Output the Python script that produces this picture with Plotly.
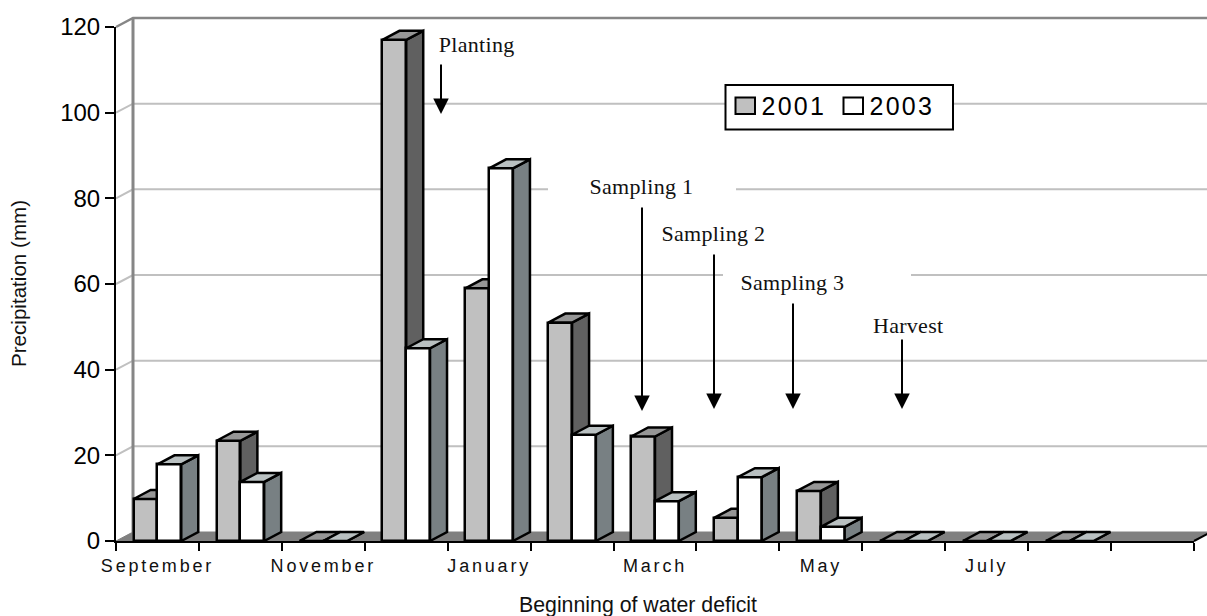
import plotly.graph_objects as go

months = ["September", "October", "November", "December", "January", "February", "March",
          "April", "May", "June", "July", "August", ""]
shown_months = ["September", "", "November", "", "January", "", "March", "", "May", "", "July", "", ""]
precip_2001 = [9.8, 23.4, 0, 117, 59, 51, 24.4, 5.4, 11.7, 0, 0, 0, None]
precip_2003 = [17.9, 13.8, 0, 45, 87, 24.8, 9.3, 14.9, 3.3, 0, 0, 0, None]
y_ticks = [0, 20, 40, 60, 80, 100, 120]

# pixel geometry of the plot frame
L, R, T, B = 116, 1194, 27, 541
W, H = 1207, 616
PX = (R - L) / 13
PY = (B - T) / 120
xd = lambda p: (p - L) / PX
yd = lambda p: (B - p) / PY
DX, DY = 17 / PX, 9 / PY      # 3-D depth offset
BW = 23.8 / PX                # bar width
EDGE = 2.5

SERIES = [
    ("2001", precip_2001, -BW / 2, "#C0C0C0", "#606060", "#969696", "x2", "y2"),
    ("2003", precip_2003, BW / 2, "#FFFFFF", "#788083", "#B9C0C1", "x3", "y3"),
]

fig = go.Figure()


def poly(xs, ys, fill, line, width, name, xa="x", ya="y"):
    fig.add_trace(go.Scatter(x=xs, y=ys, mode="lines", fill="toself" if fill else None, fillcolor=fill,
                             line=dict(color=line, width=width), xaxis=xa, yaxis=ya, name=name,
                             cliponaxis=False, showlegend=False, hoverinfo="skip"))


# floor and back wall, on a canvas-wide subplot so they can run past the frame
poly([0, DX, 13 + DX, 13, 0], [0, DY, DY, 0, 0], "#808080", "#808080", 1, "floor")
poly([13, 13 + DX], [0, DY], None, "#000000", 2, "floor edge")
for v in y_ticks[1:-1]:
    poly([0, DX, 13 + 2 * DX], [v, v + DY, v + DY], None, "#C0C0C0", 2, f"grid {v}")
poly([0, DX, 13 + 2 * DX], [120, 120 + DY, 120 + DY], None, "#868686", 2.5, "wall top")
poly([DX, DX], [DY, 120 + DY], None, "#868686", 3, "wall left")

# bars
for name, vals, off, front, side, top, xa, ya in SERIES:
    idx = [i for i, v in enumerate(vals) if v is not None]
    centers = [i + 0.5 + off for i in idx]
    fig.add_trace(go.Bar(x=centers, y=[vals[i] for i in idx], width=BW, name=name, xaxis=xa, yaxis=ya,
                         marker=dict(color=front, line=dict(color="#000000", width=EDGE)),
                         showlegend=False, customdata=[months[i] for i in idx],
                         hovertemplate="%{customdata}: %{y} mm<extra>" + name + "</extra>"))
    sx, sy, tx, ty = [], [], [], []
    for c, i in zip(centers, idx):
        v = vals[i]
        a, b = c - BW / 2, c + BW / 2
        sx += [b, b + DX, b + DX, b, b, None]
        sy += [0, DY, v + DY, v, 0, None]
        tx += [a, a + DX, b + DX, b, a, None]
        ty += [v, v + DY, v + DY, v, v, None]
    poly(sx, sy, side, "#000000", EDGE, name + " side", xa, ya)
    poly(tx, ty, top, "#000000", EDGE, name + " top", xa, ya)

shapes = []
# blank boxes that sit behind two of the labels
for x0, x1, py in [(548, 736, 189.5), (723, 911, 275.5)]:
    shapes.append(dict(type="rect", xref="x", yref="y", x0=xd(x0), x1=xd(x1), y0=yd(py + 3), y1=yd(py - 3),
                       fillcolor="#FFFFFF", line=dict(width=0), layer="above"))
# legend
shapes.append(dict(type="rect", xref="x", yref="y", x0=xd(725.5), x1=xd(953), y0=yd(129.5), y1=yd(85),
                   fillcolor="#FFFFFF", line=dict(color="#000000", width=2), layer="above"))
shapes.append(dict(type="rect", xref="x", yref="y", x0=xd(735.5), x1=xd(755), y0=yd(114), y1=yd(97.5),
                   fillcolor="#C0C0C0", line=dict(color="#000000", width=2), layer="above"))
shapes.append(dict(type="rect", xref="x", yref="y", x0=xd(843.5), x1=xd(863), y0=yd(114), y1=yd(97.5),
                   fillcolor="#FFFFFF", line=dict(color="#000000", width=2), layer="above"))

SERIF = dict(family="Liberation Serif", size=22, color="#111111")
annotations = []
for text, cx, cy in [("Planting", 476, 44), ("Sampling 1", 641, 186), ("Sampling 2", 713, 233),
                     ("Sampling 3", 792, 282), ("Harvest", 908, 325)]:
    annotations.append(dict(text=text, x=xd(cx), y=yd(cy), xref="x", yref="y", showarrow=False,
                            xanchor="center", yanchor="middle", font=SERIF))
for px, tip, start in [(441, 114, 63), (642, 411, 206), (714, 409, 253), (793, 409, 302), (902, 409, 338)]:
    annotations.append(dict(text="", x=xd(px), y=yd(tip), xref="x", yref="y", ax=0, ay=start - tip,
                            showarrow=True, arrowhead=2, arrowsize=1.55, arrowwidth=2, arrowcolor="#000000"))
for text, px in [("2001", 764), ("2003", 872)]:
    annotations.append(dict(text=text, x=xd(px), y=yd(106), xref="x", yref="y", showarrow=False,
                            xanchor="left", yanchor="middle",
                            font=dict(family="Liberation Sans", size=25, color="#000000")))
annotations.append(dict(text="Beginning of water deficit", x=xd(638), y=yd(605), xref="x", yref="y", showarrow=False,
                        xanchor="center", yanchor="middle",
                        font=dict(family="Liberation Sans", size=21.3, color="#111111")))
annotations.append(dict(text="Precipitation (mm)", x=xd(18.5), y=yd(283.5), xref="x", yref="y", showarrow=False,
                        textangle=-90, xanchor="center", yanchor="middle",
                        font=dict(family="Liberation Sans", size=20.6, color="#111111")))

dx = [L / W, R / W]
dy = [(H - B) / H, (H - T) / H]
fig.update_layout(
    width=W, height=H, autosize=False, showlegend=False,
    margin=dict(l=0, r=0, t=0, b=0, pad=0, autoexpand=False),
    paper_bgcolor="#FFFFFF", plot_bgcolor="rgba(0,0,0,0)",
    bargap=0, shapes=shapes, annotations=annotations,
    font=dict(family="Liberation Sans", color="#000000"),
    xaxis=dict(domain=[0, 1], range=[xd(0), xd(W)], visible=False, fixedrange=True),
    yaxis=dict(domain=[0, 1], range=[yd(H), yd(0)], visible=False, fixedrange=True),
    xaxis2=dict(domain=dx, range=[0, 13], anchor="y2", tickmode="array", tickvals=list(range(14)),
                showticklabels=False, ticks="outside", ticklen=8, tickwidth=2, tickcolor="#000000",
                showline=True, linecolor="#000000", linewidth=2, showgrid=False, zeroline=False, fixedrange=True),
    yaxis2=dict(domain=dy, range=[0, 120], anchor="x2", tickmode="array", tickvals=y_ticks, ticks="outside",
                ticklen=9, tickwidth=2, tickcolor="#000000", showline=True, linecolor="#000000", linewidth=2,
                showgrid=False, zeroline=False, fixedrange=True, ticklabelstandoff=0,
                tickfont=dict(size=24, color="#000000")),
    xaxis3=dict(domain=dx, range=[0, 13], overlaying="x2", anchor="y3", side="bottom", tickmode="array",
                tickvals=[i + 0.5 for i in range(13)], ticktext=shown_months, ticks="", showline=False,
                showgrid=False, zeroline=False, fixedrange=True, ticklabelstandoff=12,
                tickfont=dict(size=18, color="#111111")),
    yaxis3=dict(domain=dy, range=[0, 120], overlaying="y2", anchor="x3", visible=False, fixedrange=True),
)

css = """
body{margin:0;overflow:hidden}
.x3tick text{letter-spacing:2.8px}
.annotation-text[style*="Serif"]{letter-spacing:0.3px}
.annotation-text[style*="25px"]{letter-spacing:2.2px}
"""
post = "var s=document.createElement('style');s.textContent=" + repr(css.replace("\n", " ")) + ";document.head.appendChild(s);"
fig.write_html("out.html", post_script=post, config=dict(displayModeBar=False))
